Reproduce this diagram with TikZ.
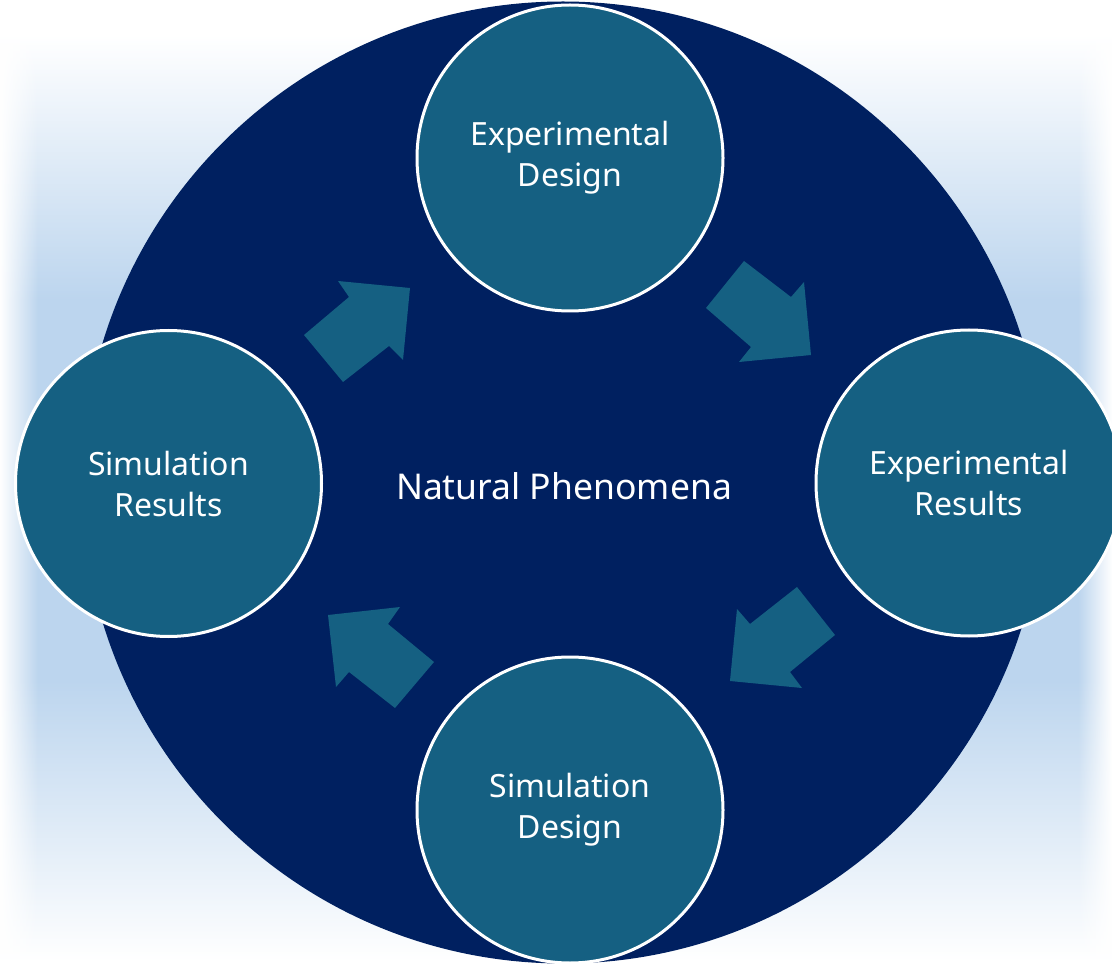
\documentclass[tikz,border=0pt]{standalone}
\usepackage{fontspec}
\setmainfont{Noto Sans}
\usetikzlibrary{fadings}
\definecolor{navy}{RGB}{0,32,96}
\definecolor{teal1}{HTML}{156082}
\definecolor{glow}{RGB}{188,213,238}
\tikzset{
  stage/.style={circle, fill=teal1, draw=white, line width=3pt, inner sep=0pt,
    minimum size=306pt, text=white, align=center,
    font=\fontsize{32}{41}\selectfont},
  flow/.style={fill=teal1},
}
\begin{document}
\begin{tikzpicture}[x=1pt,y=-1pt]
\useasboundingbox (0,0) rectangle (1112,968);
% background glow
\fill[white] (0,0) rectangle (1112,968);
\shade[top color=white, bottom color=glow] (0,35) rectangle (1112,300);
\fill[glow] (0,299) rectangle (1112,681);
\shade[top color=glow, bottom color=white] (0,680) rectangle (1112,962);
\fill[white, path fading=east] (0,0) rectangle (38,968);
\fill[white, path fading=west] (1078,0) rectangle (1112,968);
% main circle
\node[circle, fill=navy, inner sep=0pt, minimum size=962pt] (nat) at (563,482.5) {};
\node[text=white, font=\fontsize{35.5}{42}\selectfont] (natlabel) at (564,486) {Natural Phenomena};
% arrows
\fill[flow] (304,335) -- (349,297) -- (338,281) -- (410,288) -- (403,360) -- (389,346) -- (343,382) -- cycle;
\fill[flow] (744,261) -- (791,297) -- (804,282) -- (811,355) -- (739,362) -- (751,347) -- (706,308) -- cycle;
\fill[flow] (797,587) -- (835,635) -- (790,672) -- (802,688) -- (730,681) -- (737,609) -- (750,624) -- cycle;
\fill[flow] (328,615) -- (400,607) -- (388,624) -- (434,662) -- (395,708) -- (349,672) -- (336,687) -- cycle;
% stages
\node[stage] (ed) at (570,158) {Experimental\\Design};
\node[stage] (er) at (969,483) {Experimental\\Results};
\node[stage] (sd) at (570,810) {Simulation\\Design};
\node[stage] (sr) at (168.5,483.5) {Simulation\\Results};
\end{tikzpicture}
\end{document}
